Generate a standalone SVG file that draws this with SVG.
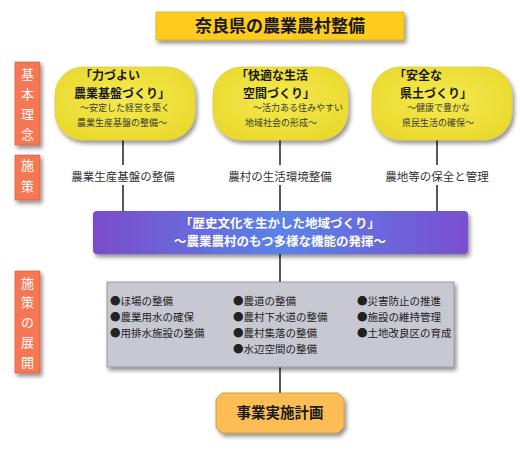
<svg xmlns="http://www.w3.org/2000/svg" width="520" height="450" viewBox="0 0 520 450">
<defs>
<filter id="sh" x="-20%" y="-20%" width="140%" height="160%">
<feDropShadow dx="2" dy="3" stdDeviation="2" flood-color="#000" flood-opacity="0.45"/>
</filter>
<linearGradient id="pg" x1="0" y1="0" x2="1" y2="0">
<stop offset="0" stop-color="#7B4CCB"/>
<stop offset="0.5" stop-color="#5A82E8"/>
<stop offset="1" stop-color="#7A4FD0"/>
</linearGradient>
<radialGradient id="yg" cx="0.5" cy="0.45" r="0.6">
<stop offset="0" stop-color="#F4EA50"/>
<stop offset="1" stop-color="#EAD92E"/>
</radialGradient>
</defs>
<style>
text{font-family:"Noto Sans CJK JP","Liberation Sans",sans-serif;}
.side{fill:#F77653;stroke:#C85A3E;stroke-width:0.6;filter:url(#sh);}
.st{fill:#fff;font-size:13px;text-anchor:middle;}
.node{fill:url(#yg);stroke:#D8C830;stroke-width:0.6;filter:url(#sh);}
.h{font-size:12px;font-weight:bold;fill:#1a1a1a;}
.s{font-size:9px;fill:#3a3a2a;}
.lab{font-size:11.5px;fill:#333;text-anchor:middle;}
.ln{stroke:#111;stroke-width:1.4;fill:none;}
.g{font-size:10.5px;fill:#222;}
</style>

<g id="title">
<rect x="156" y="12" width="248" height="28" fill="#FFCB1C" stroke="#C9A000" stroke-width="0.6" filter="url(#sh)"/>
<text x="280" y="32" font-size="17" font-weight="bold" fill="#1a1a1a" text-anchor="middle">奈良県の農業農村整備</text>
</g>

<g id="side-kihon">
<rect class="side" x="15" y="62" width="25" height="83"/>
<text class="st" x="27.5" y="79">基</text>
<text class="st" x="27.5" y="99">本</text>
<text class="st" x="27.5" y="119">理</text>
<text class="st" x="27.5" y="139">念</text>
</g>
<g id="side-shisaku">
<rect class="side" x="15" y="155" width="25" height="45"/>
<text class="st" x="27.5" y="170">施</text>
<text class="st" x="27.5" y="191">策</text>
</g>
<g id="side-tenkai">
<rect class="side" x="15" y="271" width="25" height="102"/>
<text class="st" x="27.5" y="288">施</text>
<text class="st" x="27.5" y="307">策</text>
<text class="st" x="27.5" y="327">の</text>
<text class="st" x="27.5" y="347">展</text>
<text class="st" x="27.5" y="367">開</text>
</g>

<g id="connectors">
<line class="ln" x1="123" y1="140" x2="123" y2="165"/>
<line class="ln" x1="123" y1="185" x2="123" y2="211"/>
<line class="ln" x1="280" y1="140" x2="280" y2="165"/>
<line class="ln" x1="280" y1="185" x2="280" y2="211"/>
<line class="ln" x1="437" y1="140" x2="437" y2="165"/>
<line class="ln" x1="437" y1="185" x2="437" y2="211"/>
<line class="ln" x1="280" y1="254" x2="280" y2="282"/>
<line class="ln" x1="280" y1="367" x2="280" y2="393"/>
</g>

<g id="node1">
<rect class="node" x="55" y="67" width="140" height="73" rx="28" ry="28"/>
<text class="h" x="80" y="80">「力づよい</text>
<text class="h" x="74" y="97.5">農業基盤づくり」</text>
<text class="s" x="80" y="111">〜安定した経営を築く</text>
<text class="s" x="77" y="126">農業生産基盤の整備〜</text>
</g>
<g id="node2">
<rect class="node" x="213" y="67" width="135" height="73" rx="28" ry="28"/>
<text class="h" x="236" y="80">「快適な生活</text>
<text class="h" x="243" y="97.5">空間づくり」</text>
<text class="s" x="253" y="111">〜活力ある住みやすい</text>
<text class="s" x="245" y="126">地域社会の形成〜</text>
</g>
<g id="node3">
<rect class="node" x="372" y="67" width="140" height="73" rx="28" ry="28"/>
<text class="h" x="394" y="80">「安全な</text>
<text class="h" x="400" y="97.5">県土づくり」</text>
<text class="s" x="407" y="111">〜健康で豊かな</text>
<text class="s" x="402" y="126">県民生活の確保〜</text>
</g>

<g id="label1"><text class="lab" x="123" y="181">農業生産基盤の整備</text></g>
<g id="label2"><text class="lab" x="280" y="181">農村の生活環境整備</text></g>
<g id="label3"><text class="lab" x="437" y="181">農地等の保全と管理</text></g>

<g id="vision">
<rect x="93" y="211" width="375" height="43" rx="4" fill="url(#pg)" filter="url(#sh)"/>
<text x="280" y="227.5" font-size="12.5" font-weight="bold" fill="#fff" text-anchor="middle">「歴史文化を生かした地域づくり」</text>
<text x="280" y="246" font-size="12.5" font-weight="bold" fill="#fff" text-anchor="middle">〜農業農村のもつ多様な機能の発揮〜</text>
</g>

<g id="measures">
<rect x="107" y="282" width="347" height="85" fill="#C8C8D2" stroke="#8A8A95" stroke-width="0.8" filter="url(#sh)"/>
<text class="g" x="110" y="305">●ほ場の整備</text>
<text class="g" x="110" y="321">●農業用水の確保</text>
<text class="g" x="110" y="337">●用排水施設の整備</text>
<text class="g" x="233" y="305">●農道の整備</text>
<text class="g" x="233" y="321">●農村下水道の整備</text>
<text class="g" x="233" y="337">●農村集落の整備</text>
<text class="g" x="233" y="353">●水辺空間の整備</text>
<text class="g" x="357" y="305">●災害防止の推進</text>
<text class="g" x="357" y="321">●施設の維持管理</text>
<text class="g" x="357" y="337">●土地改良区の育成</text>
</g>

<g id="plan">
<polygon points="222,393 338,393 344,399 344,427 338,433 222,433 216,427 216,399" fill="#FDBD55" stroke="#C8923A" stroke-width="0.8" filter="url(#sh)"/>
<text x="280" y="418" font-size="14.5" font-weight="bold" fill="#1a1a1a" text-anchor="middle">事業実施計画</text>
</g>
</svg>
